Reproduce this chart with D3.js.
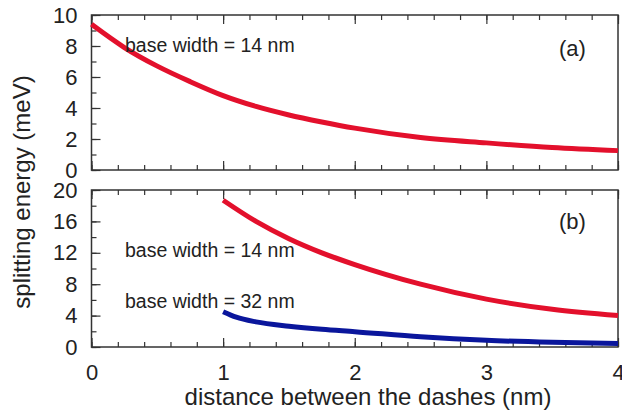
<!DOCTYPE html>
<html>
<head>
<meta charset="utf-8">
<script src="https://cdn.jsdelivr.net/npm/d3@7"></script>
<style>
  body { margin: 0; background: #fff; }
  text { font-family: "Liberation Sans", Arial, sans-serif; fill: #222; }
</style>
</head>
<body>
<div id="chart"></div>
<script>
// panel (a): base width 14 nm
var xA = [0, 0.25, 0.5, 0.75, 1, 1.25, 1.5, 1.75, 2, 2.5, 3, 3.5, 4];
var yA = [9.4, 7.9, 6.7, 5.7, 4.8, 4.1, 3.55, 3.1, 2.7, 2.1, 1.75, 1.45, 1.25];
// panel (b): base width 14 nm
var xB14 = [1, 1.25, 1.5, 1.75, 2, 2.5, 3, 3.5, 4];
var yB14 = [18.7, 16.0, 13.8, 12.0, 10.5, 8.0, 6.1, 4.8, 4.0];
// panel (b): base width 32 nm
var xB32 = [1, 1.1, 1.25, 1.5, 1.75, 2, 2.5, 3, 3.5, 4];
var yB32 = [4.5, 3.8, 3.2, 2.65, 2.25, 1.95, 1.3, 0.85, 0.6, 0.45];

var xTicks = [0, 1, 2, 3, 4];
var yTicksA = [0, 2, 4, 6, 8, 10];
var yTicksB = [0, 4, 8, 12, 16, 20];

var width = 622, height = 414;
var red = '#e3102c', blue = '#0a169c', frame = '#333';

var svg = d3.select('#chart').append('svg')
    .attr('width', width)
    .attr('height', height);

var x = d3.scaleLinear().domain([0, 4]).range([91.5, 618]);
var yTop = d3.scaleLinear().domain([0, 10]).range([170, 15]);
var yBot = d3.scaleLinear().domain([0, 20]).range([347, 190]);

function minors(lo, hi, step) {
    var out = [];
    for (var v = lo; v <= hi + 1e-9; v += step) out.push(+v.toFixed(3));
    return out;
}

function drawPanel(y, yTicks, yMinorStep, label, labelY, showX) {
    var g = svg.append('g');
    var r = y.range();

    // minor ticks
    var xMinor = minors(0, 4, 0.2);
    g.append('g')
        .attr('transform', 'translate(0,' + r[0] + ')')
        .call(d3.axisBottom(x).tickValues(xMinor).tickSize(-5).tickFormat(''));
    g.append('g')
        .attr('transform', 'translate(0,' + r[1] + ')')
        .call(d3.axisTop(x).tickValues(xMinor).tickSize(-5).tickFormat(''));
    g.append('g')
        .attr('transform', 'translate(' + x(0) + ',0)')
        .call(d3.axisLeft(y).tickValues(minors(0, y.domain()[1], yMinorStep)).tickSize(-5).tickFormat(''));

    // major ticks
    g.append('g')
        .attr('transform', 'translate(0,' + r[0] + ')')
        .call(d3.axisBottom(x).tickValues(xTicks).tickSize(-9).tickPadding(17)
            .tickFormat(showX ? d3.format('d') : ''));
    g.append('g')
        .attr('transform', 'translate(0,' + r[1] + ')')
        .call(d3.axisTop(x).tickValues(xTicks).tickSize(-9).tickFormat(''));
    g.append('g')
        .attr('transform', 'translate(' + x(0) + ',0)')
        .call(d3.axisLeft(y).tickValues(yTicks).tickSize(-9).tickPadding(14));

    g.selectAll('.domain').remove();
    g.selectAll('.tick line').attr('stroke', frame).attr('stroke-width', 1.2);
    g.selectAll('.tick text')
        .style('font-family', '"Liberation Sans", Arial, sans-serif')
        .attr('font-size', 22)
        .attr('fill', '#222');

    g.append('rect')
        .attr('x', x(0)).attr('y', r[1])
        .attr('width', x(4) - x(0)).attr('height', r[0] - r[1])
        .attr('fill', 'none').attr('stroke', frame).attr('stroke-width', 1.5);

    g.append('text')
        .attr('x', 559).attr('y', labelY)
        .attr('font-size', 22)
        .text(label);
    return g;
}

var line = function(y) {
    return d3.line()
        .x(function(d) { return x(d[0]); })
        .y(function(d) { return y(d[1]); })
        .curve(d3.curveMonotoneX);
};

function series(xs, ys) {
    return xs.map(function(v, i) { return [v, ys[i]]; });
}

var gA = drawPanel(yTop, yTicksA, 1, '(a)', 56, false);
var gB = drawPanel(yBot, yTicksB, 2, '(b)', 229, true);

gA.append('path')
    .datum(series(xA, yA))
    .attr('fill', 'none').attr('stroke', red).attr('stroke-width', 5)
    .attr('d', line(yTop));

gB.append('path')
    .datum(series(xB14, yB14))
    .attr('fill', 'none').attr('stroke', red).attr('stroke-width', 5)
    .attr('d', line(yBot));

gB.append('path')
    .datum(series(xB32, yB32))
    .attr('fill', 'none').attr('stroke', blue).attr('stroke-width', 5)
    .attr('d', line(yBot));

// annotations
svg.append('text').attr('x', 125).attr('y', 52).attr('font-size', 19.5).attr('fill', '#333').text('base width = 14 nm');
svg.append('text').attr('x', 125).attr('y', 257).attr('font-size', 19.5).attr('fill', '#333').text('base width = 14 nm');
svg.append('text').attr('x', 125).attr('y', 308).attr('font-size', 19.5).attr('fill', '#333').text('base width = 32 nm');

// axis titles
svg.append('text')
    .attr('x', 368).attr('y', 405)
    .attr('text-anchor', 'middle')
    .attr('font-size', 24)
    .text('distance between the dashes (nm)');

svg.append('text')
    .attr('transform', 'translate(30,192) rotate(-90)')
    .attr('text-anchor', 'middle')
    .attr('font-size', 24)
    .text('splitting energy (meV)');
</script>
</body>
</html>
